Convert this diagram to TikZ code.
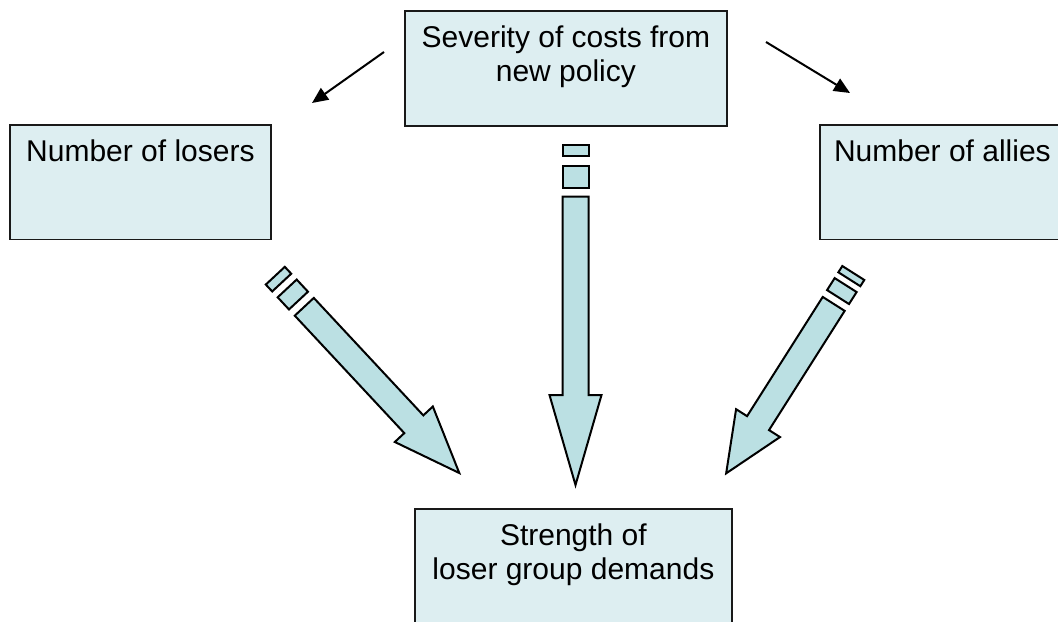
\documentclass[tikz,border=0pt]{standalone}
\usepackage{fontspec}
\setmainfont{Liberation Sans}
\usepackage{tikz}
\usetikzlibrary{arrows.meta,calc,positioning}
\definecolor{kastenfarbe}{RGB}{221,238,241}
\definecolor{pfeilfarbe}{RGB}{187,224,227}
\tikzset{
  kasten/.style={draw=black!90,line width=0.9pt,fill=kastenfarbe,inner sep=0pt,anchor=north west,align=center,
    font=\fontsize{15}{17}\selectfont,text height=18.3pt,text depth=39pt},
  zweizeilig/.style={text height=35.3pt,text depth=22.2pt},
  duenn/.style={line width=1pt,-{Triangle[length=8pt,width=7pt]}},
  block/.style={draw=black,line width=1pt,fill=pfeilfarbe,line join=miter}
}
%Streifenpfeil: Start, Winkel, Streifen 1, Luecke, Streifen 2, Luecke, Schaft, Spitze
\newcommand{\streifenpfeil}[8]{%
  \begin{scope}[shift={#1},rotate=-#2]
    \pgfmathsetmacro{\ua}{#3}
    \pgfmathsetmacro{\ub}{#3+#4}
    \pgfmathsetmacro{\uc}{#3+#4+#5}
    \pgfmathsetmacro{\ud}{#3+#4+#5+#6}
    \pgfmathsetmacro{\ue}{\ud+#7}
    \pgfmathsetmacro{\uf}{\ue+#8}
    \draw[block] (0,-13) -- (\ua,-13) -- (\ua,13) -- (0,13) -- cycle;
    \draw[block] (\ub,-13) -- (\uc,-13) -- (\uc,13) -- (\ub,13) -- cycle;
    \draw[block] (\ud,-13) -- (\ue,-13) -- (\ue,-26) -- (\uf,0) -- (\ue,26) -- (\ue,13) -- (\ud,13) -- cycle;
  \end{scope}}

\begin{document}
\begin{tikzpicture}[x=0.5pt,y=-0.5pt]
\clip (0,0) rectangle (1058,621);
%Kaesten
\node[kasten,zweizeilig,minimum width=161pt] (kosten) at (404,10) {Severity of costs from\\new policy};
\node[kasten,minimum width=130.5pt] (verlierer) at (9,124) {Number of losers};
\node[kasten,minimum width=122.5pt] (verbuendete) at (819,124) {Number of allies};
\node[kasten,zweizeilig,minimum width=158.5pt] (staerke) at (414,508) {Strength of\\loser group demands};
%duenne Pfeile
\coordinate (kl) at (384,52);
\coordinate (vl) at (312,103);
\coordinate (kr) at (766,42);
\coordinate (vr) at (850,93);
\draw[duenn] (kl) -- (vl);
\draw[duenn] (kr) -- (vr);
%Blockpfeile
\streifenpfeil{(275.3,275.7)}{47}{9.4}{8}{16.6}{8.5}{160.6}{66.7}
\streifenpfeil{(575.5,145)}{90}{10.5}{10}{22}{9}{198.5}{90}
\streifenpfeil{(853.3,273)}{122.4}{7.4}{6.9}{14.2}{8.1}{141.2}{59.5}
\end{tikzpicture}
\end{document}
